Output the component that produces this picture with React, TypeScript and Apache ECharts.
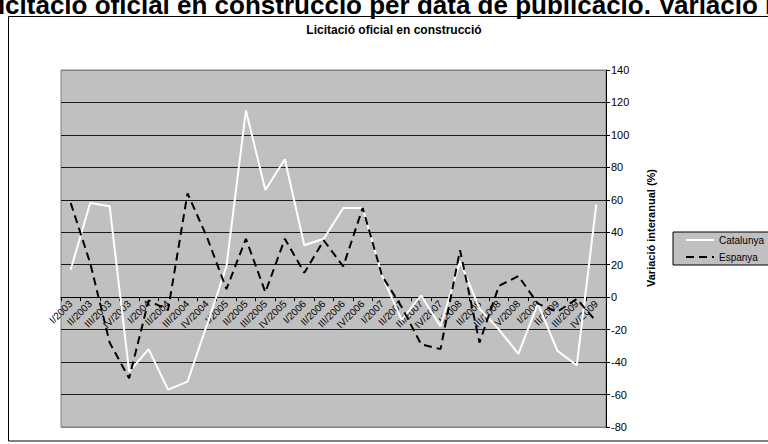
import React, { useEffect, useRef } from "react";
import * as echarts from "echarts";

const quarters = [
  "I/2003", "II/2003", "III/2003", "IV/2003",
  "I/2004", "II/2004", "III/2004", "IV/2004",
  "I/2005", "II/2005", "III/2005", "IV/2005",
  "I/2006", "II/2006", "III/2006", "IV/2006",
  "I/2007", "II/2007", "III/2007", "IV/2007",
  "I/2008", "II/2008", "III/2008", "IV/2008",
  "I/2009", "II/2009", "III/2009", "IV/2009",
];

const catalunya = [
  17, 58, 56, -46, -32, -57, -52, -17,
  19, 115, 66, 85, 32, 36, 55, 55,
  13, -14, 1, -18, 22, -7, -20, -35,
  -4, -33, -42, 57,
];

const espanya = [
  58, 21, -28, -50, -2, -8, 64, 37,
  5, 36, 3, 36, 15, 35, 19, 55,
  13, -6, -29, -32, 29, -28, 7, 13,
  -4, -9, -1, -15,
];

const yTicks = { min: -80, max: 140, step: 20 };

const mainTitle = "Licitació oficial en construcció per data de publicació. Variació interanual";
const chartTitle = "Licitació oficial en construcció";
const yName = "Variació interanual (%)";

const FONT = 'Arial, "Liberation Sans", sans-serif';

export default function App() {
  const ref = useRef<HTMLDivElement>(null);
  useEffect(() => {
    if (!ref.current) return;
    const chart = echarts.init(ref.current, undefined, { renderer: "svg" });
    const nLines = (yTicks.max - yTicks.min) / yTicks.step + 1;
    const splitColors: string[] = [];
    for (let i = 0; i < nLines; i++) {
      splitColors.push(i === 0 || i === nLines - 1 ? "#808080" : "#1a1a1a");
    }
    const gridTop = 70;
    const gridBottom = 17;
    const plotH = 444 - gridTop - gridBottom;
    const zeroFromBottom = (plotH * (0 - yTicks.min)) / (yTicks.max - yTicks.min);
    chart.setOption({
      animation: false,
      backgroundColor: "#ffffff",
      textStyle: { fontFamily: FONT },
      title: {
        text: chartTitle,
        left: 394,
        top: 24,
        padding: 0,
        textAlign: "center",
        textStyle: { fontSize: 12, fontWeight: "bold", color: "#000", fontFamily: FONT },
      },
      legend: {
        orient: "vertical",
        left: 673,
        top: 232,
        backgroundColor: "#C0C0C0",
        borderColor: "#000",
        borderWidth: 1,
        borderRadius: 0,
        padding: [3, 30, 3, 12],
        itemWidth: 28,
        itemHeight: 12,
        itemGap: 7,
        itemStyle: { opacity: 0, borderWidth: 0 },
        lineStyle: { opacity: 1 },
        textStyle: { fontSize: 10, color: "#000", fontFamily: FONT },
        data: ["Catalunya", "Espanya"],
      },
      grid: {
        left: 61,
        right: 162,
        top: gridTop,
        bottom: gridBottom,
        show: true,
        backgroundColor: "#C0C0C0",
        borderColor: "#808080",
        borderWidth: 1,
        outerBoundsMode: "none",
        containLabel: false,
      },
      xAxis: {
        type: "category",
        data: quarters,
        boundaryGap: true,
        position: "bottom",
        offset: -zeroFromBottom,
        axisLine: { onZero: false, lineStyle: { color: "#000", width: 1 } },
        axisTick: { show: true, interval: 0, length: 4, lineStyle: { color: "#000" } },
        axisLabel: {
          interval: 0,
          rotate: 45,
          fontSize: 10,
          margin: 5,
          color: "#000",
          fontFamily: FONT,
        },
        splitLine: { show: false },
      },
      yAxis: {
        type: "value",
        position: "right",
        min: yTicks.min,
        max: yTicks.max,
        interval: yTicks.step,
        axisLine: { show: true, lineStyle: { color: "#000", width: 1 } },
        axisTick: { show: true, length: 4, lineStyle: { color: "#000" } },
        axisLabel: { fontSize: 11, color: "#000", margin: 5, fontFamily: FONT },
        splitLine: { show: true, lineStyle: { color: splitColors, width: 1.2 } },
      },
      series: [
        {
          name: "Catalunya",
          type: "line",
          data: catalunya,
          symbol: "none",
          lineStyle: { color: "#ffffff", width: 2 },
          itemStyle: { color: "#ffffff" },
          z: 3,
        },
        {
          name: "Espanya",
          type: "line",
          data: espanya,
          symbol: "none",
          lineStyle: { color: "#000000", width: 2, type: [8, 5] },
          itemStyle: { color: "#000000" },
          z: 4,
        },
      ],
      graphic: [
        {
          type: "text",
          x: -18,
          y: 18,
          style: {
            text: mainTitle,
            font: `bold 26px ${FONT}`,
            fill: "#000",
            textAlign: "left",
            textVerticalAlign: "bottom",
          },
        },
        {
          type: "rect",
          shape: { x: 8.5, y: 16.5, width: 800, height: 424.5 },
          style: { fill: "none", stroke: "#000", lineWidth: 1 },
          silent: true,
        },
        {
          type: "text",
          x: 651,
          y: 228,
          rotation: Math.PI / 2,
          style: {
            text: yName,
            font: `bold 11px ${FONT}`,
            fill: "#000",
            textAlign: "center",
            textVerticalAlign: "middle",
          },
        },
      ],
    });
    return () => chart.dispose();
  }, []);
  return (
    <div
      ref={ref}
      style={{ position: "fixed", left: 0, top: 0, width: 768, height: 444 }}
    />
  );
}
